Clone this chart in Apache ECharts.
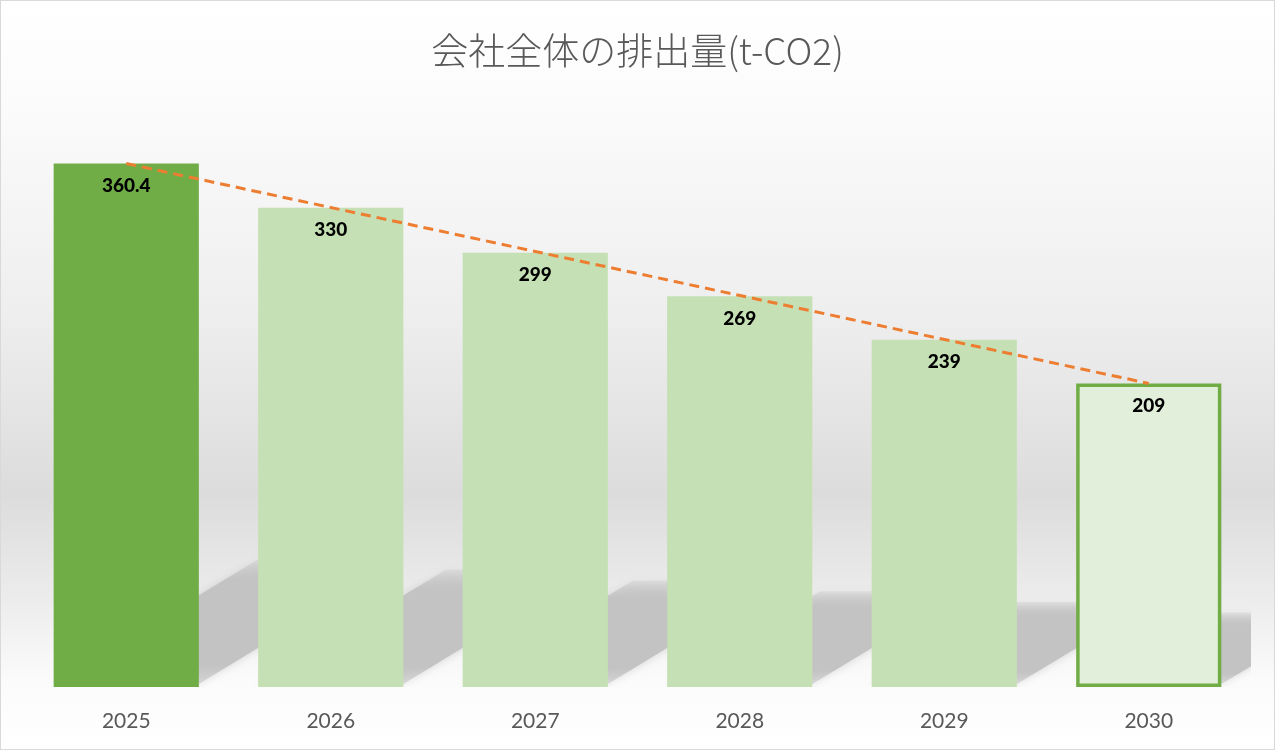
<!DOCTYPE html>
<html>
<head>
<meta charset="utf-8">
<script src="https://cdn.jsdelivr.net/npm/echarts@6/dist/echarts.min.js"></script>
<style>
  html, body { margin: 0; padding: 0; background: #fff; }
  #chart { width: 1275px; height: 750px; box-sizing: border-box; border: 1px solid #d9d9d9; }
</style>
</head>
<body>
<div id="chart"></div>
<script>
const years = ['2025', '2026', '2027', '2028', '2029', '2030'];
const emissions = [360.4, 330, 299, 269, 239, 209];
const trend = [360.4, null, null, null, null, 209];   // dashed line, first to last

const BAR_RATIO = 0.71;

const chart = echarts.init(document.getElementById('chart'));

// bar colours: actual year dark, plan years light, target year outlined
const barData = emissions.map((v, i) => {
    if (i === 0) return { value: v, itemStyle: { color: '#70ad47' } };
    if (i === emissions.length - 1) {
        return { value: v, itemStyle: { color: '#e2efda', borderColor: '#70ad47', borderWidth: 3.5 } };
    }
    return { value: v, itemStyle: { color: '#c5e0b4' } };
});

chart.setOption({
    animation: false,
    backgroundColor: {
        type: 'linear', x: 0, y: 0, x2: 0, y2: 1,
        colorStops: [
            { offset: 0, color: '#ffffff' },
            { offset: 0.14, color: '#fbfbfb' },
            { offset: 0.42, color: '#eeeeee' },
            { offset: 0.66, color: '#dcdcdc' },
            { offset: 0.8, color: '#ececec' },
            { offset: 0.91, color: '#fbfbfb' },
            { offset: 1, color: '#ffffff' }
        ]
    },
    title: {
        text: '会社全体の排出量(t-CO2)',
        left: 'center',
        top: 26,
        textStyle: {
            fontFamily: 'Noto Sans CJK JP',
            fontSize: 37,
            fontWeight: 300,
            color: '#595959'
        }
    },
    grid: { left: 23, right: 23, top: 105, bottom: 62 },
    xAxis: {
        type: 'category',
        data: years,
        axisLine: { show: false },
        axisTick: { show: false },
        axisLabel: {
            margin: 24,
            fontFamily: 'Lato',
            fontSize: 21,
            color: '#595959'
        }
    },
    yAxis: {
        type: 'value',
        min: 0,
        max: 400,
        show: false,
        splitLine: { show: false }
    },
    series: [
        {
            // perspective shadow behind each bar
            type: 'custom',
            z: 1,
            clip: true,
            silent: true,
            data: emissions.map((v, i) => [i, v]),
            renderItem: (params, api) => {
                const i = api.value(0);
                const base = api.coord([i, 0]);
                const top = api.coord([i, api.value(1)]);
                const bw = api.size([1, 0])[0] * BAR_RATIO;
                const h = (base[1] - top[1]) * 0.245;
                const dx = h * 1.6;
                const x0 = base[0] - bw / 2;
                const x1 = base[0] + bw / 2;
                return {
                    type: 'polygon',
                    shape: {
                        points: [
                            [x0, base[1] - 3],
                            [x1, base[1] - 3],
                            [x1 + dx, base[1] - h],
                            [x0 + dx, base[1] - h]
                        ]
                    },
                    style: {
                        fill: {
                            type: 'linear', x: 0, y: 0, x2: 0, y2: 1,
                            colorStops: [
                                { offset: 0, color: 'rgba(190,190,190,0.25)' },
                                { offset: 0.18, color: 'rgba(195,195,195,1)' },
                                { offset: 0.85, color: 'rgba(195,195,195,1)' },
                                { offset: 1, color: 'rgba(205,205,205,0.7)' }
                            ]
                        },
                        shadowBlur: 8,
                        shadowColor: 'rgba(190,190,190,0.6)'
                    }
                };
            }
        },
        {
            type: 'bar',
            z: 2,
            barWidth: (BAR_RATIO * 100) + '%',
            data: barData,
            label: {
                show: true,
                position: 'insideTop',
                distance: 13,
                fontFamily: 'Lato',
                fontWeight: 900,
                fontSize: 19,
                color: '#000'
            }
        },
        {
            type: 'line',
            z: 3,
            data: trend,
            connectNulls: true,
            showSymbol: false,
            symbol: 'none',
            lineStyle: { color: '#ed7d31', width: 3, type: [10, 6] }
        }
    ]
});
</script>
</body>
</html>
